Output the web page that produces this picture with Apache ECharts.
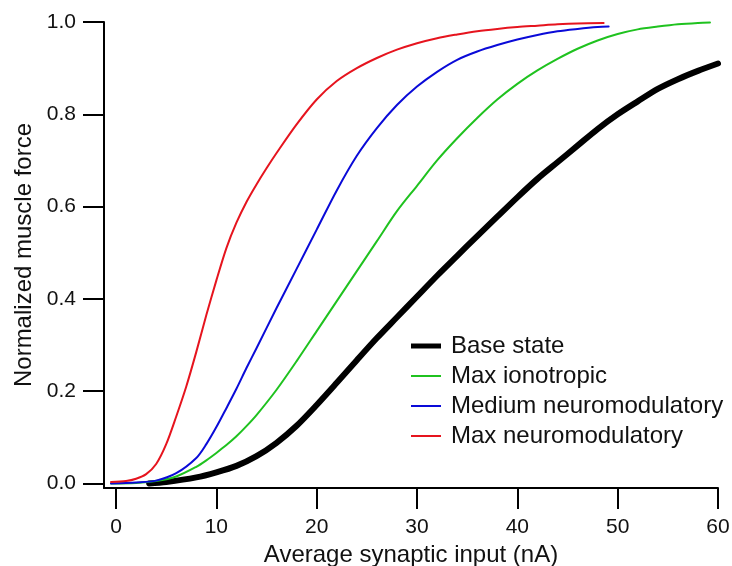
<!DOCTYPE html>
<html>
<head>
<meta charset="utf-8">
<script src="https://cdn.jsdelivr.net/npm/echarts@6/dist/echarts.min.js"></script>
<style>
  html, body { margin: 0; padding: 0; background: #fff; }
  #chart { width: 732px; height: 566px; }
</style>
</head>
<body>
<div id="chart"></div>
<script>
// values
const baseX = [3.3, 5, 8, 10, 12, 14, 16, 18, 20, 22, 24, 26, 28, 30, 32, 34, 36, 38, 40, 42, 44, 46, 48, 50, 52, 54, 56, 58, 60]
const baseY = [0, 0.003, 0.013, 0.024, 0.038, 0.059, 0.088, 0.125, 0.17, 0.218, 0.267, 0.315, 0.36, 0.405, 0.45, 0.493, 0.536, 0.578, 0.62, 0.66, 0.696, 0.732, 0.768, 0.80, 0.828, 0.855, 0.876, 0.894, 0.91]

const ionoX = [-0.5, 2, 4, 6, 8, 9, 10, 11, 12, 13, 14, 16, 18, 20, 22, 24, 26, 28, 30, 32, 34, 36, 38, 40, 42, 44, 46, 48, 50, 52, 54, 56, 58, 59.2]
const ionoY = [0, 0.001, 0.005, 0.015, 0.036, 0.05, 0.066, 0.083, 0.102, 0.124, 0.148, 0.203, 0.265, 0.33, 0.395, 0.46, 0.525, 0.59, 0.645, 0.70, 0.748, 0.792, 0.832, 0.866, 0.895, 0.92, 0.942, 0.96, 0.974, 0.984, 0.99, 0.995, 0.998, 0.999]

const medX = [-0.5, 2, 4, 6, 8, 9, 10, 11, 12, 13, 14, 16, 18, 20, 22, 24, 26, 28, 30, 32, 34, 36, 38, 40, 42, 44, 46, 48, 49.1]
const medY = [0, 0.002, 0.006, 0.022, 0.055, 0.085, 0.122, 0.163, 0.205, 0.25, 0.293, 0.38, 0.465, 0.55, 0.635, 0.71, 0.77, 0.82, 0.86, 0.892, 0.918, 0.936, 0.95, 0.962, 0.972, 0.98, 0.985, 0.989, 0.99]

const maxNmX = [-0.5, 1, 2, 3, 4, 5, 6, 7, 8, 9, 10, 11, 12, 13, 14, 15, 16, 18, 20, 22, 24, 26, 28, 30, 32, 34, 36, 38, 40, 42, 44, 46, 48.6]
const maxNmY = [0.003, 0.005, 0.01, 0.02, 0.042, 0.085, 0.145, 0.21, 0.285, 0.365, 0.44, 0.51, 0.565, 0.61, 0.648, 0.683, 0.716, 0.778, 0.832, 0.872, 0.90, 0.922, 0.94, 0.954, 0.965, 0.973, 0.98, 0.985, 0.989, 0.992, 0.995, 0.997, 0.998]

const xTicks = [0, 10, 20, 30, 40, 50, 60]
const yTicks = [0, 0.2, 0.4, 0.6, 0.8, 1.0]

const font = 'Liberation Sans, Arial, sans-serif'

const pairs = (xs, ys) => xs.map((x, i) => [x, ys[i]])

const makeSeries = (name, xs, ys, color, width, z) => {
  return {
    name: name,
    type: 'line',
    data: pairs(xs, ys),
    symbol: 'none',
    smooth: 0.3,
    z: z,
    itemStyle: { color: color },
    lineStyle: { color: color, width: width, cap: 'round', join: 'round' }
  }
}

const myChart = echarts.init(document.getElementById('chart'))

const option = {
  animation: false,
  backgroundColor: '#fff',
  grid: { left: 104, right: 14, top: 22, bottom: 78, containLabel: false, outerBoundsMode: 'none' },
  legend: {
    orient: 'vertical',
    left: 406,
    top: 329,
    itemWidth: 30,
    itemHeight: 14,
    itemGap: 6,
    textStyle: { color: '#111', fontFamily: font, fontSize: 24, lineHeight: 24, padding: [0, 0, 0, 5] },
    data: [
      { name: 'Base state', icon: 'path://M0,0H30V5H0Z' },
      { name: 'Max ionotropic', icon: 'path://M0,0H30V2H0Z' },
      { name: 'Medium neuromodulatory', icon: 'path://M0,0H30V2H0Z' },
      { name: 'Max neuromodulatory', icon: 'path://M0,0H30V2H0Z' }
    ]
  },
  xAxis: {
    type: 'value',
    min: -1.2,
    max: 60,
    name: 'Average synaptic input (nA)',
    nameLocation: 'middle',
    nameGap: 55,
    nameTextStyle: { color: '#111', fontFamily: font, fontSize: 24 },
    axisLine: { show: true, onZero: false, lineStyle: { color: '#000', width: 2 } },
    axisTick: { show: true, customValues: xTicks, length: 21, lineStyle: { color: '#000', width: 2 } },
    axisLabel: { customValues: xTicks, color: '#111', fontFamily: font, fontSize: 21, margin: 29 },
    splitLine: { show: false }
  },
  yAxis: {
    type: 'value',
    min: -0.01,
    max: 1.0,
    name: 'Normalized muscle force',
    nameLocation: 'middle',
    nameGap: 68,
    nameTextStyle: { color: '#111', fontFamily: font, fontSize: 24 },
    axisLine: { show: true, onZero: false, lineStyle: { color: '#000', width: 2 } },
    axisTick: { show: true, customValues: yTicks, length: 21, lineStyle: { color: '#000', width: 2 } },
    axisLabel: {
      customValues: yTicks,
      color: '#111',
      fontFamily: font,
      fontSize: 21,
      margin: 28,
      formatter: (v) => v.toFixed(1)
    },
    splitLine: { show: false }
  },
  series: [
    makeSeries('Base state', baseX, baseY, '#000000', 6, 2),
    makeSeries('Max ionotropic', ionoX, ionoY, '#1fc21f', 2, 3),
    makeSeries('Medium neuromodulatory', medX, medY, '#0a0ad8', 2, 4),
    makeSeries('Max neuromodulatory', maxNmX, maxNmY, '#e6141e', 2, 5)
  ]
}

myChart.setOption(option)
</script>
</body>
</html>
